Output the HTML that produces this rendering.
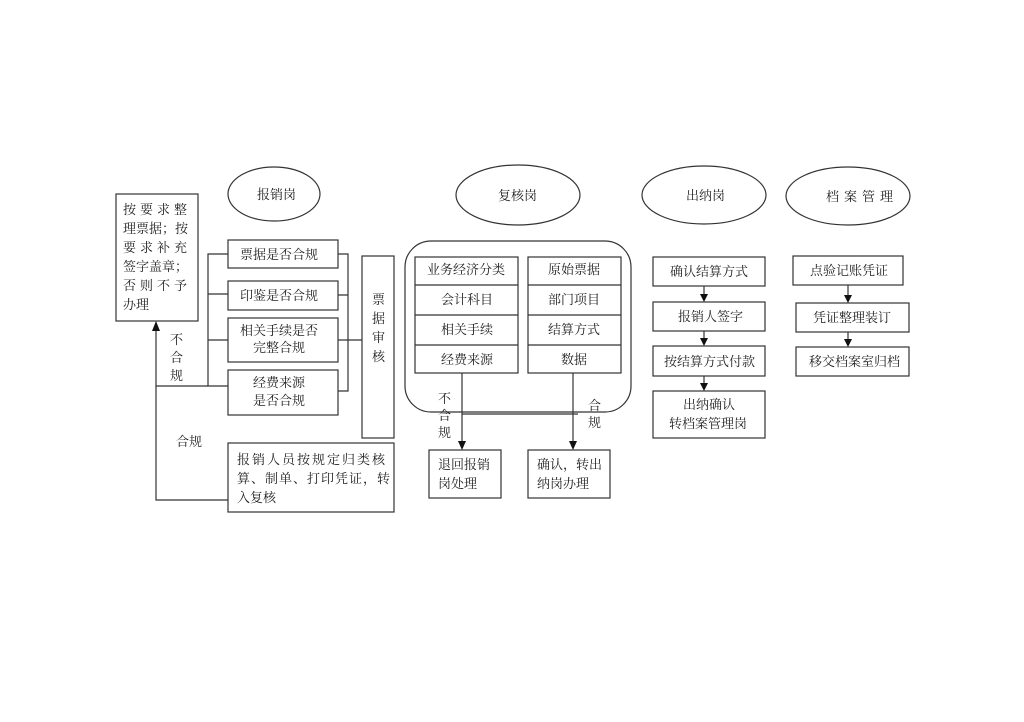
<!DOCTYPE html>
<html><head><meta charset="utf-8"><style>
html,body{margin:0;padding:0;background:#fff;}
svg text{font-family:"Liberation Serif","Noto Serif CJK SC","Noto Sans CJK SC",serif;font-size:13px;fill:#222;}
</style></head><body>
<svg width="1024" height="717" viewBox="0 0 1024 717" xmlns="http://www.w3.org/2000/svg">
<rect width="1024" height="717" fill="#fff"/>
<g fill="none" stroke="#333" stroke-width="1.2">
<ellipse cx="274" cy="194" rx="46" ry="27"/>
<ellipse cx="518" cy="195" rx="62" ry="30"/>
<ellipse cx="704" cy="195" rx="62" ry="29"/>
<ellipse cx="848" cy="196" rx="62" ry="29"/>
<rect x="116" y="194" width="82" height="127"/>
<rect x="228" y="240" width="110" height="28"/>
<rect x="228" y="281" width="110" height="29"/>
<rect x="228" y="318" width="110" height="44"/>
<rect x="228" y="370" width="110" height="45"/>
<path d="M228,254 H208 V386 H228 M208,294 H228 M208,340 H228"/>
<path d="M338,254 H348 V391 H338 M338,295 H348 M338,340 H362"/>
<rect x="362" y="256" width="32" height="182"/>
<path d="M208,386 H156 V323"/>
<path d="M228,500 H156 V386"/>
<rect x="228" y="443" width="166" height="69"/>
<rect x="405" y="241" width="226" height="171" rx="26"/>
<rect x="415" y="257" width="103" height="116"/>
<path d="M415,285 H518 M415,315 H518 M415,345 H518"/>
<rect x="528" y="257" width="93" height="116"/>
<path d="M528,285 H621 M528,315 H621 M528,345 H621"/>
<path d="M462,373 V442"/>
<path d="M573,373 V442"/>
<path d="M462,414 H578"/>
<rect x="429" y="450" width="72" height="48"/>
<rect x="528" y="450" width="82" height="48"/>
<rect x="653" y="257" width="112" height="29"/>
<rect x="653" y="302" width="112" height="29"/>
<rect x="653" y="346" width="112" height="30"/>
<rect x="653" y="391" width="112" height="47"/>
<path d="M704,286 V295"/>
<path d="M704,331 V339"/>
<path d="M704,376 V384"/>
<rect x="793" y="256" width="110" height="29"/>
<rect x="796" y="303" width="113" height="29"/>
<rect x="796" y="347" width="113" height="29"/>
<path d="M848,285 V296"/>
<path d="M848,332 V340"/>
</g>
<g fill="#111">
<path d="M152,331 L156,321 L160,331 z"/>
<path d="M458,441 L466,441 L462,450 z"/>
<path d="M569,441 L577,441 L573,450 z"/>
<path d="M700,294 L708,294 L704,302 z"/>
<path d="M700,338 L708,338 L704,346 z"/>
<path d="M700,383 L708,383 L704,391 z"/>
<path d="M844,295 L852,295 L848,303 z"/>
<path d="M844,339 L852,339 L848,347 z"/>
</g>
<text x="257" y="199">报销岗</text>
<text x="498" y="200">复核岗</text>
<text x="686" y="200">出纳岗</text>
<text x="826" y="201" style="letter-spacing:5px">档案管理</text>
<text x="123" y="214" style="letter-spacing:4px">按要求整</text>
<text x="123" y="233">理票据；按</text>
<text x="123" y="252" style="letter-spacing:4px">要求补充</text>
<text x="123" y="271">签字盖章；</text>
<text x="123" y="290" style="letter-spacing:4px">否则不予</text>
<text x="123" y="299" dy="10">办理</text>
<text x="240" y="259">票据是否合规</text>
<text x="240" y="300">印鉴是否合规</text>
<text x="240" y="335">相关手续是否</text>
<text x="253" y="352">完整合规</text>
<text x="253" y="387">经费来源</text>
<text x="253" y="405">是否合规</text>
<text x="372" y="304">票</text><text x="372" y="323">据</text><text x="372" y="342">审</text><text x="372" y="361">核</text>
<text x="170" y="344">不</text><text x="170" y="362">合</text><text x="170" y="380">规</text>
<text x="176" y="446">合规</text>
<text x="237" y="464" style="letter-spacing:2px">报销人员按规定归类核</text>
<text x="237" y="483" style="letter-spacing:1px">算、制单、打印凭证，转</text>
<text x="237" y="502">入复核</text>
<text x="427" y="274">业务经济分类</text>
<text x="441" y="304">会计科目</text>
<text x="441" y="334">相关手续</text>
<text x="441" y="364">经费来源</text>
<text x="548" y="274">原始票据</text>
<text x="548" y="304">部门项目</text>
<text x="548" y="334">结算方式</text>
<text x="561" y="364">数据</text>
<text x="438" y="403">不</text><text x="438" y="420">合</text><text x="438" y="437">规</text>
<text x="588" y="410">合</text><text x="588" y="427">规</text>
<text x="438" y="469">退回报销</text>
<text x="438" y="488">岗处理</text>
<text x="537" y="469">确认，转出</text>
<text x="537" y="488">纳岗办理</text>
<text x="670" y="276">确认结算方式</text>
<text x="678" y="321">报销人签字</text>
<text x="664" y="366">按结算方式付款</text>
<text x="683" y="409">出纳确认</text>
<text x="669" y="428">转档案管理岗</text>
<text x="810" y="275">点验记账凭证</text>
<text x="813" y="322">凭证整理装订</text>
<text x="809" y="366">移交档案室归档</text>
</svg>
</body></html>
